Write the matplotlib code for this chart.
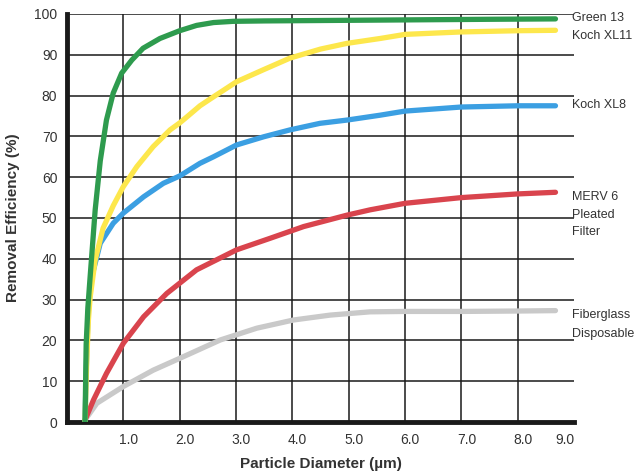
import matplotlib
matplotlib.use('Agg')
import matplotlib.pyplot as plt
import matplotlib.transforms as mtransforms

plt.rcParams['font.family'] = ['Liberation Sans', 'DejaVu Sans']

# Particle diameter (um) vs removal efficiency (%)
green_x = [0.32, 0.34, 0.37, 0.41, 0.5, 0.59, 0.7, 0.82, 0.97, 1.15, 1.35, 1.65,
           2.0, 2.3, 2.6, 2.95, 3.5, 4.5, 5.5, 6.5, 7.5, 8.67]
green_y = [0, 19, 28, 35.5, 52, 64, 74, 80.6, 85.5, 88.7, 91.6, 94,
           95.9, 97.2, 97.9, 98.2, 98.3, 98.4, 98.5, 98.6, 98.7, 98.8]

yellow_x = [0.32, 0.35, 0.38, 0.41, 0.5, 0.64, 0.82, 1.0, 1.24, 1.53, 1.83, 2.0,
            2.13, 2.36, 2.6, 3.01, 3.48, 3.96, 4.5, 4.97, 5.56, 6.0, 7.0, 8.0, 8.67]
yellow_y = [0, 15, 25, 30.5, 39.7, 47.5, 53, 57.7, 62.6, 67.5, 71.6, 73.3,
            74.8, 77.5, 79.7, 83.4, 86.3, 89.2, 91.4, 92.8, 94, 95.0, 95.6, 95.9, 96]

blue_x = [0.32, 0.34, 0.36, 0.38, 0.44, 0.59, 0.82, 1.0, 1.36, 1.71, 2.0, 2.36,
          2.6, 3.01, 3.49, 3.96, 4.49, 4.97, 5.56, 6.0, 7.0, 8.0, 8.67]
blue_y = [0, 12, 21, 27.4, 35.6, 43.8, 48.7, 51.2, 55.2, 58.5, 60.3, 63.4,
          65, 67.9, 69.9, 71.6, 73.2, 74, 75.2, 76.2, 77.2, 77.5, 77.5]

red_x = [0.32, 0.47, 0.7, 1.0, 1.36, 1.77, 2.3, 3.01, 3.6, 4.2, 4.97, 5.38,
         6.0, 7.0, 8.0, 8.67]
red_y = [0.5, 5.4, 11.9, 19.3, 25.8, 31.5, 37.3, 42.2, 45, 47.9, 50.7, 52,
         53.6, 55, 55.9, 56.3]

gray_x = [0.32, 0.53, 1.0, 1.53, 2.0, 2.72, 3.37, 4.02, 4.67, 5.38, 6.0, 7.0, 8.0, 8.67]
gray_y = [0.5, 4.6, 8.7, 12.7, 15.6, 20.1, 23, 25, 26.2, 27, 27.1, 27.1, 27.2, 27.3]

names = ['Green 13', 'Koch XL11', 'Koch XL8', 'MERV 6\nPleated\nFilter',
         'Fiberglass\nDisposable']
colors = ['#2e9b4e', '#fde74c', '#3b9fe2', '#d9444d', '#c9c9c9']
label_top = [100.6, 96.1, 79.1, 56.6, 27.7]
label_spacing = [1.45, 1.45, 1.45, 1.63, 1.78]

x_ticks = [1, 2, 3, 4, 5, 6, 7, 8, 9]
y_ticks = [0, 10, 20, 30, 40, 50, 60, 70, 80, 90, 100]

fig = plt.figure(figsize=(6.37, 4.74), dpi=100)
ax = fig.add_axes([0.1052, 0.1097, 0.796, 0.8608])

# grid
for xv in x_ticks[:-1]:
    ax.axvline(xv, color='#1a1a1a', linewidth=1.1, zorder=1)
for yv in y_ticks[1:]:
    ax.axhline(yv, color='#1a1a1a', linewidth=1.1, zorder=1)

series = [(green_x, green_y), (yellow_x, yellow_y), (blue_x, blue_y),
          (red_x, red_y), (gray_x, gray_y)]
for (xs, ys), c in zip(series[::-1], colors[::-1]):
    ax.plot(xs, ys, color=c, linewidth=3.8, solid_capstyle='round',
            solid_joinstyle='round', zorder=3)

ax.set_xlim(0, 9)
ax.set_ylim(0, 100)
ax.set_xticks(x_ticks)
ax.set_xticklabels([f'{v:.1f}' for v in x_ticks])
ax.set_yticks(y_ticks)
ax.tick_params(length=0, labelsize=10, colors='#333333')
ax.tick_params(axis='x', pad=8)
ax.tick_params(axis='y', pad=7)

shift = mtransforms.ScaledTranslation(5 / 100, 0, fig.dpi_scale_trans)
xlabels = ax.get_xticklabels()
for lab in xlabels[:-1]:
    lab.set_transform(lab.get_transform() + shift)
xlabels[-1].set_horizontalalignment('right')

for side in ['top', 'right']:
    ax.spines[side].set_visible(False)
for side in ['left', 'bottom']:
    ax.spines[side].set_linewidth(3.5)
    ax.spines[side].set_color('#1a1a1a')

for name, ly, ls in zip(names, label_top, label_spacing):
    ax.text(8.97, ly, name, fontsize=9, color='#333333', va='top',
            linespacing=ls, clip_on=False)

ax.set_xlabel('Particle Diameter (µm)', fontsize=11, fontweight='bold',
              color='#333333', labelpad=7)
ax.set_ylabel('Removal Efficiency (%)', fontsize=11, fontweight='bold',
              color='#333333', labelpad=10)

fig.savefig('out.png', dpi=100, facecolor='white')
